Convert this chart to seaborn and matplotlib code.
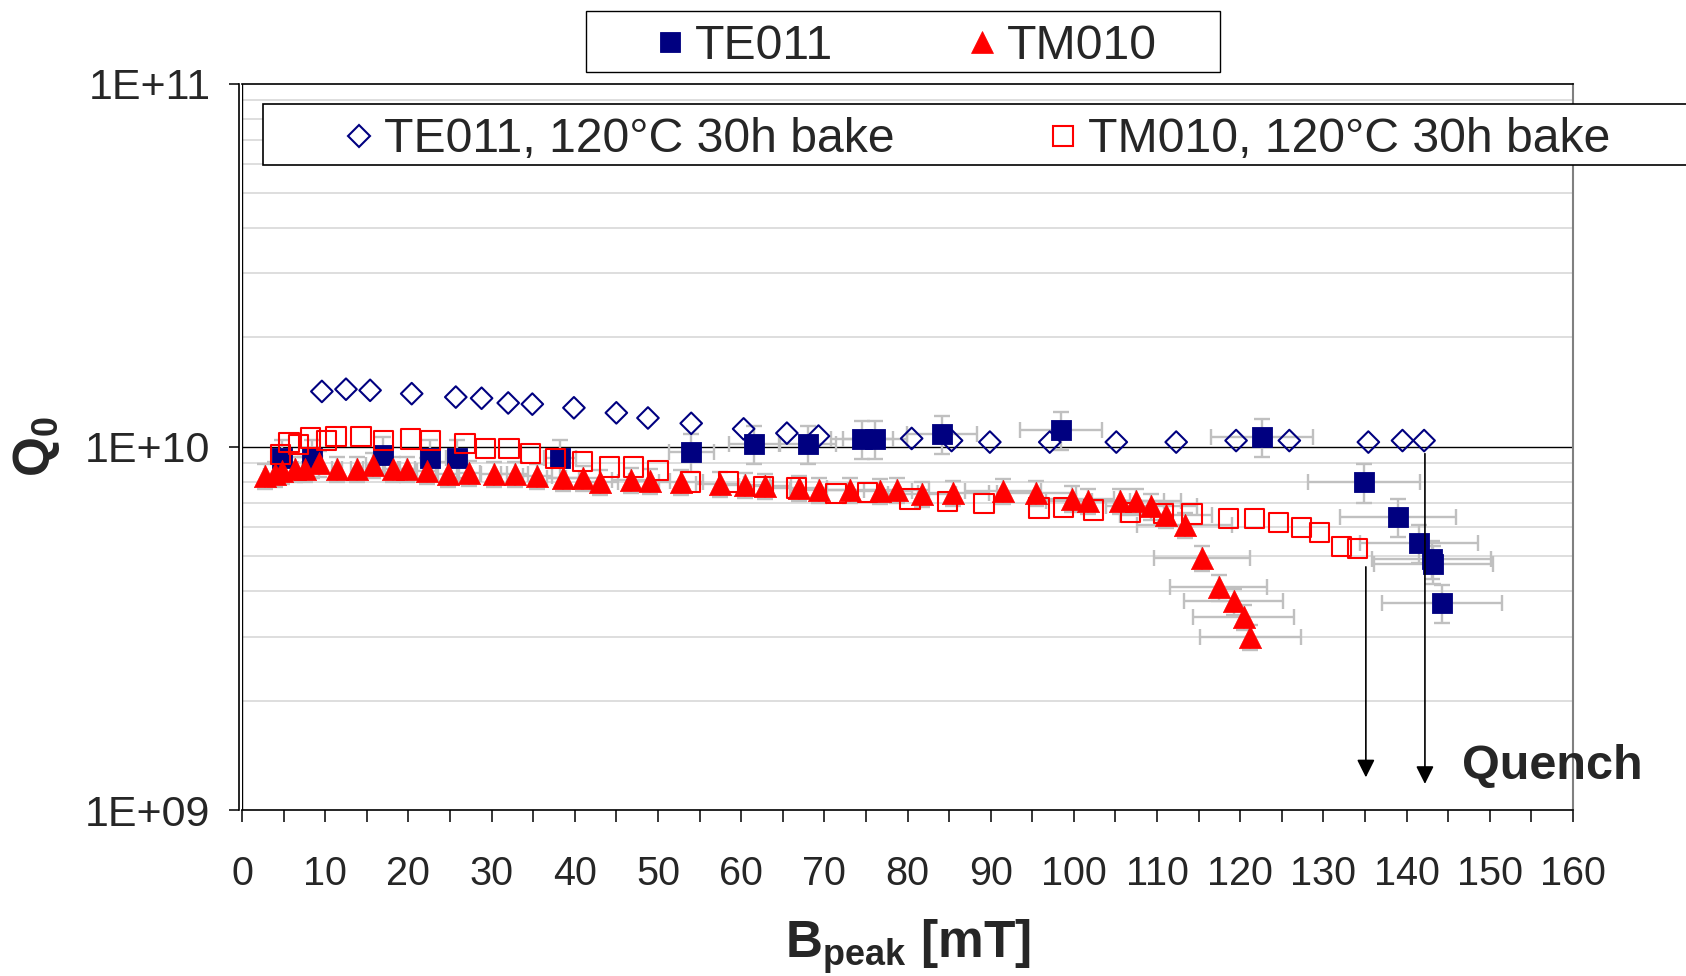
import numpy as np
import pandas as pd
import matplotlib.pyplot as plt
import seaborn as sns
from matplotlib.lines import Line2D
from matplotlib.patches import Rectangle
from matplotlib.ticker import LogLocator, NullFormatter, FixedLocator

# --- Data (B_peak in mT, Q0) ---
te011_b = [4.8, 8.4, 16.9, 22.6, 25.8, 38.2, 54.0, 61.6, 68.0, 74.5, 76.1, 84.2, 98.5,
           122.6, 134.9, 139.0, 141.5, 143.0, 143.2, 144.3]
te011_q = [9.3e9, 9.3e9, 9.5e9, 9.3e9, 9.3e9, 9.3e9, 9.7e9, 1.02e10, 1.02e10, 1.05e10,
           1.05e10, 1.085e10, 1.11e10, 1.067e10, 7.98e9, 6.42e9, 5.45e9, 4.92e9, 4.77e9, 3.72e9]

tm010_b = [2.8, 4.0, 4.8, 6.4, 7.6, 9.2, 11.4, 13.8, 15.7, 18.1, 19.8, 22.2, 24.8, 27.3,
           30.3, 32.8, 35.5, 38.6, 41.0, 43.0, 46.8, 49.0, 52.8, 57.5, 60.5, 62.9, 67.0,
           69.4, 73.1, 76.7, 78.7, 81.7, 85.5, 91.5, 95.5, 99.8, 101.7, 105.5, 107.5,
           109.3, 111.1, 113.3, 115.4, 117.4, 119.2, 120.4, 121.2]
tm010_q = [8.3e9, 8.4e9, 8.6e9, 8.7e9, 8.7e9, 9.0e9, 8.7e9, 8.7e9, 8.9e9, 8.7e9, 8.7e9,
           8.6e9, 8.4e9, 8.45e9, 8.4e9, 8.4e9, 8.3e9, 8.2e9, 8.2e9, 8.0e9, 8.1e9, 8.05e9,
           8.0e9, 7.9e9, 7.85e9, 7.8e9, 7.7e9, 7.6e9, 7.6e9, 7.55e9, 7.6e9, 7.4e9, 7.45e9,
           7.55e9, 7.45e9, 7.2e9, 7.1e9, 7.1e9, 7.1e9, 6.85e9, 6.5e9, 6.1e9, 4.95e9,
           4.1e9, 3.75e9, 3.4e9, 3.0e9]

te011_bake_b = [9.6, 12.5, 15.4, 20.4, 25.7, 28.8, 32.0, 34.9, 39.9, 45.0, 48.8, 54.0,
                60.3, 65.5, 69.3, 80.5, 85.3, 89.9, 97.1, 105.1, 112.3, 119.5, 125.9,
                135.4, 139.5, 142.1]
te011_bake_q = [1.42e10, 1.44e10, 1.43e10, 1.40e10, 1.37e10, 1.36e10, 1.32e10, 1.31e10,
                1.28e10, 1.24e10, 1.20e10, 1.16e10, 1.12e10, 1.09e10, 1.07e10, 1.054e10,
                1.04e10, 1.03e10, 1.03e10, 1.03e10, 1.03e10, 1.04e10, 1.04e10, 1.03e10,
                1.04e10, 1.04e10]

tm010_bake_b = [4.65, 5.65, 6.8, 8.2, 10.2, 11.3, 14.3, 17.0, 20.3, 22.7, 26.8, 29.3, 32.1,
                34.7, 37.7, 40.9, 44.2, 47.1, 50.0, 53.9, 58.5, 62.7, 66.7, 71.4, 75.2,
                80.3, 84.8, 89.2, 95.8, 98.8, 102.4, 106.8, 110.8, 114.2, 118.6, 121.7,
                124.6, 127.4, 129.5, 132.2, 134.1]
tm010_bake_q = [9.5e9, 1.028e10, 1.017e10, 1.057e10, 1.04e10, 1.066e10, 1.066e10, 1.043e10,
                1.05e10, 1.04e10, 1.02e10, 9.9e9, 9.87e9, 9.6e9, 9.3e9, 9.1e9, 8.8e9, 8.8e9,
                8.6e9, 8.0e9, 8.0e9, 7.76e9, 7.7e9, 7.45e9, 7.48e9, 7.18e9, 7.07e9, 6.98e9,
                6.78e9, 6.81e9, 6.7e9, 6.6e9, 6.55e9, 6.53e9, 6.36e9, 6.36e9, 6.2e9, 5.98e9,
                5.8e9, 5.32e9, 5.25e9]

# relative measurement errors (gray error bars)
te011_b_err_rel = 0.05
te011_q_err_rel = 0.12
tm010_b_err_rel = 0.05
tm010_q_err_rel = 0.08

# quench arrows: field, start Q, end Q
quench_b = [135.1, 142.2]
quench_q_start = [4.67e9, 9.57e9]
quench_q_end = [1.23e9, 1.18e9]

x_ticks = [0, 10, 20, 30, 40, 50, 60, 70, 80, 90, 100, 110, 120, 130, 140, 150, 160]
x_minor_ticks = [5, 15, 25, 35, 45, 55, 65, 75, 85, 95, 105, 115, 125, 135, 145, 155]
y_ticks = [1e9, 1e10, 1e11]
y_tick_labels = ["1E+09", "1E+10", "1E+11"]

NAVY = "#000080"
RED = "#FF0000"
ERR_GRAY = "#C0C0C0"

# marker sizes (points)
MS_TE = 15.0
MS_TM = 16.0
MS_TEB = 11.0
MS_TMB = 13.8

# --- style ---
sns.set_theme(style="white")
plt.rcParams["font.family"] = ["Liberation Sans", "DejaVu Sans"]
plt.rcParams["mathtext.fontset"] = "custom"
plt.rcParams["mathtext.rm"] = "Liberation Sans"
plt.rcParams["mathtext.bf"] = "Liberation Sans:bold"
plt.rcParams["mathtext.it"] = "Liberation Sans:italic"

W, H = 1686, 976
fig = plt.figure(figsize=(W / 100, H / 100), dpi=100)
ax = fig.add_axes([242 / W, 1 - 810 / H, (1573 - 242) / W, (810 - 83.5) / H])
ax.set_yscale("log")

# --- error bars first, markers on top ---
ax.errorbar(te011_b, te011_q,
            xerr=np.array(te011_b) * te011_b_err_rel,
            yerr=np.array(te011_q) * te011_q_err_rel,
            fmt="none", ecolor=ERR_GRAY, elinewidth=1.7, capsize=5.5, capthick=1.7, zorder=2.5)
ax.errorbar(tm010_b, tm010_q,
            xerr=np.array(tm010_b) * tm010_b_err_rel,
            yerr=np.array(tm010_q) * tm010_q_err_rel,
            fmt="none", ecolor=ERR_GRAY, elinewidth=1.7, capsize=5.5, capthick=1.7, zorder=2.5)

te_df = pd.DataFrame({"B": te011_b, "Q": te011_q})
tm_df = pd.DataFrame({"B": tm010_b, "Q": tm010_q})
teb_df = pd.DataFrame({"B": te011_bake_b, "Q": te011_bake_q})
tmb_df = pd.DataFrame({"B": tm010_bake_b, "Q": tm010_bake_q})

sns.scatterplot(data=te_df, x="B", y="Q", ax=ax, marker="s", s=MS_TE ** 2,
                color=NAVY, edgecolor=NAVY, linewidth=0.6, zorder=3, legend=False)
sns.scatterplot(data=tm_df, x="B", y="Q", ax=ax, marker="^", s=MS_TM ** 2,
                color=RED, edgecolor=RED, linewidth=0.5, zorder=3.1, legend=False)
sns.scatterplot(data=teb_df, x="B", y="Q", ax=ax, marker="D", s=MS_TEB ** 2,
                color=NAVY, facecolor="none", edgecolor=NAVY, linewidth=1.5, zorder=3.2,
                legend=False)
sns.scatterplot(data=tmb_df, x="B", y="Q", ax=ax, marker="s", s=MS_TMB ** 2,
                color=RED, facecolor="none", edgecolor=RED, linewidth=1.5, zorder=3.3,
                legend=False)

# --- axes, ticks, grid ---
ax.set_xlim(0, 160)
ax.set_ylim(1e9, 1e11)
ax.xaxis.set_major_locator(FixedLocator(x_ticks))
ax.xaxis.set_minor_locator(FixedLocator(x_minor_ticks))
ax.set_xticklabels([str(t) for t in x_ticks])
ax.yaxis.set_major_locator(FixedLocator(y_ticks))
ax.set_yticklabels(y_tick_labels)
ax.yaxis.set_minor_locator(LogLocator(base=10, subs=np.arange(2, 10)))
ax.yaxis.set_minor_formatter(NullFormatter())

ax.grid(False)
ax.yaxis.grid(True, which="minor", color="#D4D4D4", linewidth=1.1)
ax.axhline(1e10, color="black", linewidth=1.0, zorder=1.5)
ax.axvline(0, color="black", linewidth=1.0, zorder=1.5)

ax.tick_params(axis="x", which="both", bottom=True, direction="out", length=8.5,
               width=1.1, color="black", labelsize=28.5, pad=24)
ax.tick_params(axis="y", which="major", left=True, direction="out", length=7.2,
               width=1.1, color="black", labelsize=31, pad=13)
ax.tick_params(axis="y", which="minor", left=False, length=0)

ax.spines["left"].set_position(("outward", 2.5))
for side in ["left", "bottom", "top"]:
    ax.spines[side].set_color("black")
    ax.spines[side].set_linewidth(1.2)
ax.spines["right"].set_color("#808080")
ax.spines["right"].set_linewidth(1.5)

# --- labels ---
ax.set_xlabel(r"$\mathbf{B_{peak}}$ [mT]", fontsize=37, fontweight="bold", va="baseline")
ax.xaxis.set_label_coords(0.5, -(958 - 810) / (810 - 83.5))
ax.set_ylabel(r"$\mathbf{Q_{0}}$", fontsize=37, fontweight="bold", va="baseline")
ax.yaxis.set_label_coords(-(242 - 49.5) / (1573 - 242), 0.5)

# --- quench arrows ---
for qb, q0, q1 in zip(quench_b, quench_q_start, quench_q_end):
    ax.annotate("", xy=(qb, q1), xytext=(qb, q0),
                arrowprops=dict(arrowstyle="-|>,head_length=0.54,head_width=0.27",
                                color="black", lw=1.2, shrinkA=0, shrinkB=0,
                                mutation_scale=20),
                zorder=4)
ax.text(146.6, 1.22e9, "Quench", fontsize=35, fontweight="bold",
        ha="left", va="baseline", clip_on=False, zorder=4)

# --- legends (boxes drawn separately, like the Excel originals) ---
fig.add_artist(Rectangle((586 / W, 1 - 72 / H), (1220 - 586) / W, (72 - 11) / H,
                         transform=fig.transFigure, facecolor="white",
                         edgecolor="black", linewidth=1.0, zorder=3))
fig.add_artist(Rectangle((263 / W, 1 - 165 / H), (1720 - 263) / W, (165 - 104) / H,
                         transform=fig.transFigure, facecolor="white",
                         edgecolor="black", linewidth=1.2, zorder=3))

fs = 34.7
fs_px = fs * 100 / 72
hl = 0.6

h_te = Line2D([], [], ls="none", marker="s", ms=MS_TE, mfc=NAVY, mec=NAVY, mew=0.6)
h_tm = Line2D([], [], ls="none", marker="^", ms=MS_TM, mfc=RED, mec=RED, mew=0.5)
h_teb = Line2D([], [], ls="none", marker="D", ms=MS_TEB, mfc="none", mec=NAVY, mew=1.5)
h_tmb = Line2D([], [], ls="none", marker="s", ms=MS_TMB, mfc="none", mec=RED, mew=1.5)

fig.legend(handles=[h_te, h_tm], labels=["TE011", "TM010"], ncol=2,
           loc="center left", bbox_to_anchor=((670 - hl * fs_px / 2) / W, 1 - 46.5 / H),
           frameon=False, fontsize=fs, handlelength=hl, handletextpad=0.22,
           columnspacing=2.78, borderpad=0, borderaxespad=0)
fig.legend(handles=[h_teb, h_tmb],
           labels=["TE011, 120°C 30h bake", "TM010, 120°C 30h bake"], ncol=2,
           loc="center left", bbox_to_anchor=((359 - hl * fs_px / 2) / W, 1 - 140 / H),
           frameon=False, fontsize=fs, handlelength=hl, handletextpad=0.22,
           columnspacing=3.2, borderpad=0, borderaxespad=0)

fig.savefig("out.png", dpi=100)
